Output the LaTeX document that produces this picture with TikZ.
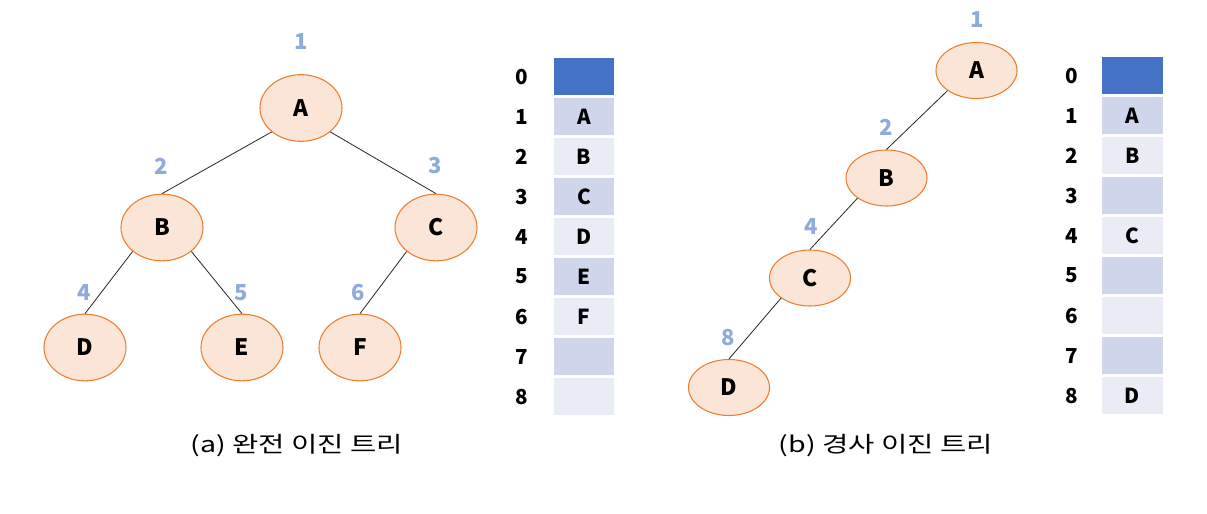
\documentclass[tikz,border=0pt]{standalone}
\usepackage{fontspec}
\setmainfont{Noto Sans CJK KR}
\newfontfamily\capfont[FakeStretch=1.3]{Noto Sans CJK KR}
\usetikzlibrary{shapes.geometric}
\definecolor{nodefill}{HTML}{FBE5D6}
\definecolor{nodeline}{HTML}{ED7D31}
\definecolor{idxblue}{HTML}{8FAADC}
\definecolor{headcell}{HTML}{4472C4}
\definecolor{darkcell}{HTML}{CFD5EA}
\definecolor{lightcell}{HTML}{E9EBF5}
\begin{document}
\begin{tikzpicture}[x=0.75pt,y=-0.75pt,
  treenode/.style={ellipse,draw=nodeline,fill=nodefill,line width=0.8pt,
    minimum width=61.5pt,minimum height=50pt,inner sep=0pt,
    font=\fontsize{17}{20}\selectfont\bfseries},
  flatnode/.style={treenode,minimum width=60.75pt,minimum height=42pt},
  edge/.style={draw=black!85,line width=0.6pt},
  idxlabel/.style={text=idxblue,font=\fontsize{16.5}{19}\selectfont\bfseries},
  cell/.style={minimum width=45.5pt,minimum height=27.8pt,inner sep=0pt,
    font=\fontsize{15.5}{18}\selectfont\bfseries},
  rownum/.style={font=\fontsize{15.5}{18}\selectfont\bfseries},
  caption/.style={font=\capfont\fontsize{16.5}{20}\selectfont}]
\useasboundingbox[fill=white] (0,0) rectangle (1207,514);

% ---- (a) complete binary tree ----
\node[treenode] (a1) at (301,108) {A};
\node[treenode] (a2) at (162,227.5) {B};
\node[treenode] (a3) at (436,227.5) {C};
\node[treenode] (a4) at (85,347.5) {D};
\node[treenode] (a5) at (242,347.5) {E};
\node[treenode] (a6) at (360,347.5) {F};
\draw[edge] (a1.south west) -- (a2.north);
\draw[edge] (a1.south east) -- (a3.north);
\draw[edge] (a2.south west) -- (a4.north);
\draw[edge] (a2.south east) -- (a5.north);
\draw[edge] (a3.south west) -- (a6.north);
\node[idxlabel] (la1) at (301,42) {1};
\node[idxlabel] (la2) at (161,166) {2};
\node[idxlabel] (la3) at (435,166) {3};
\node[idxlabel] (la4) at (84,293) {4};
\node[idxlabel] (la5) at (241,293) {5};
\node[idxlabel] (la6) at (358,293) {6};

% array for (a)
\foreach \i/\v in {0/,1/A,2/B,3/C,4/D,5/E,6/F,7/,8/}{
  \pgfmathtruncatemacro{\odd}{mod(\i,2)}
  \ifnum\i=0 \def\cc{headcell}\else\ifnum\odd=1 \def\cc{darkcell}\else\def\cc{lightcell}\fi\fi
  \node[cell,fill=\cc] (ca\i) at (584,76.5+40*\i) {\v};
  \node[rownum] (na\i) at (522,76.5+40*\i) {\i};
}
\node[caption] (capa) at (297,446) {(a) 완전 이진 트리};

% ---- (b) skewed binary tree ----
\node[flatnode] (b1) at (976.5,70.5) {A};
\node[flatnode] (b2) at (886.5,178) {B};
\node[flatnode] (b3) at (810,278) {C};
\node[flatnode] (b4) at (729,387.5) {D};
\draw[edge] (b1.south west) -- (b2.north);
\draw[edge] (b2.south west) -- (b3.north);
\draw[edge] (b3.south west) -- (b4.north);
\node[idxlabel] (lb1) at (977,20) {1};
\node[idxlabel] (lb2) at (886,127) {2};
\node[idxlabel] (lb4) at (811,227) {4};
\node[idxlabel] (lb8) at (728,338) {8};

% array for (b)
\foreach \i/\v in {0/,1/A,2/B,3/,4/C,5/,6/,7/,8/D}{
  \pgfmathtruncatemacro{\odd}{mod(\i,2)}
  \ifnum\i=0 \def\cc{headcell}\else\ifnum\odd=1 \def\cc{darkcell}\else\def\cc{lightcell}\fi\fi
  \node[cell,fill=\cc] (cb\i) at (1132.5,75.5+40*\i) {\v};
  \node[rownum] (nb\i) at (1072,75.5+40*\i) {\i};
}
\node[caption] (capb) at (886,446) {(b) 경사 이진 트리};
\end{tikzpicture}
\end{document}
